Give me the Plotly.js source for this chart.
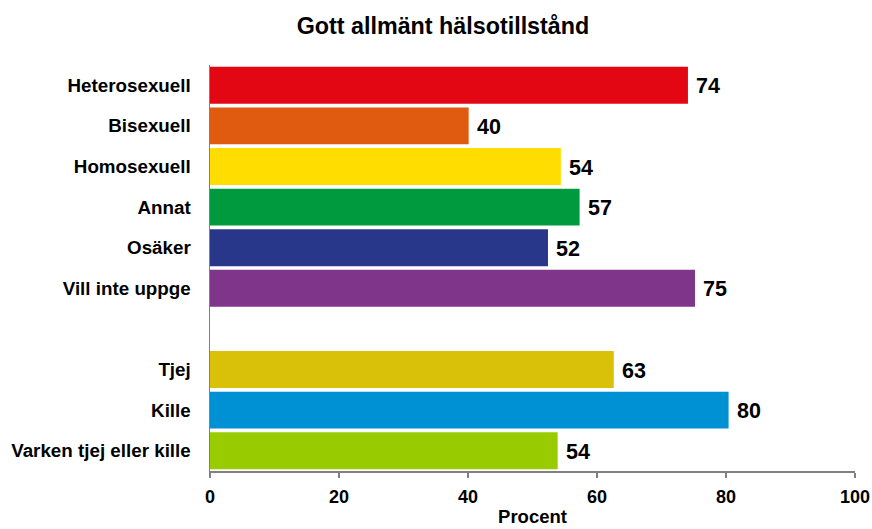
<!DOCTYPE html>
<html><head><meta charset="utf-8">
<script src="https://cdn.plot.ly/plotly-3.0.1.min.js"></script>
<style>html,body{margin:0;padding:0;background:#fff;}#chart{width:872px;height:529px;}</style>
</head><body><div id="chart"></div>
<script>
const categories = ["Heterosexuell","Bisexuell","Homosexuell","Annat","Osäker","Vill inte uppge","Tjej","Kille","Varken tjej eller kille"];
const groupOf = [0,0,0,0,0,0,1,1,1];
const values = [74.1, 40.1, 54.4, 57.3, 52.4, 75.2, 62.6, 80.4, 53.9];
const valueLabels = ["74","40","54","57","52","75","63","80","54"];
const colors = ["#e30613","#e05a0f","#ffdd00","#009a3e","#29378b","#7f3589","#d9c10a","#0090d4","#99cc00"];
const xTicks = [0,20,40,60,80,100];

// slot positions: one empty slot between groups
const pos = categories.map((c,i)=> i + groupOf[i]);

const font = "Liberation Sans, Arial, sans-serif";
const trace = {
  type: "bar", orientation: "h",
  x: values, y: pos,
  marker: {color: colors, line: {width: 0}},
  width: 0.91,
  hoverinfo: "none"
};
const annotations = values.map((v,i)=>({
  x: v, y: pos[i], xref: "x", yref: "y", text: valueLabels[i],
  showarrow: false, xanchor: "left", yanchor: "middle", xshift: 6, yshift: -1,
  font: {family: font, size: 21.5, color: "#000", weight: "bold"}
}));
const layout = {
  width: 872, height: 529,
  margin: {l: 210, r: 17, t: 65, b: 58},
  paper_bgcolor: "#fff", plot_bgcolor: "#fff",
  showlegend: false,
  title: {text: "<b>Gott allmänt hälsotillstånd</b>", x: 0.508, xanchor: "center", y: 0.952, yanchor: "middle",
          font: {family: font, size: 23.3, color: "#000"}},
  xaxis: {range: [0, 100], tickvals: xTicks, ticktext: xTicks.map(String), showgrid: false, zeroline: false,
          showline: true, linecolor: "#808080", linewidth: 1.5, ticks: "outside", ticklen: 5, tickcolor: "#808080", tickwidth: 1.5,
          ticklabelstandoff: 4,
          tickfont: {family: font, size: 18, color: "#000", weight: "bold"},
          title: {text: "<b>Procent</b>", standoff: 4, font: {family: font, size: 18.5, color: "#000"}}},
  yaxis: {range: [9.5, -0.5], tickvals: pos, ticktext: categories, showgrid: false, zeroline: false,
          showline: true, linecolor: "#808080", linewidth: 1.5, ticks: "", ticklabelstandoff: 14,
          tickfont: {family: font, size: 18.8, color: "#000", weight: "bold"}},
  annotations: annotations
};
Plotly.newPlot("chart", [trace], layout, {displayModeBar: false, staticPlot: true});
</script></body></html>
